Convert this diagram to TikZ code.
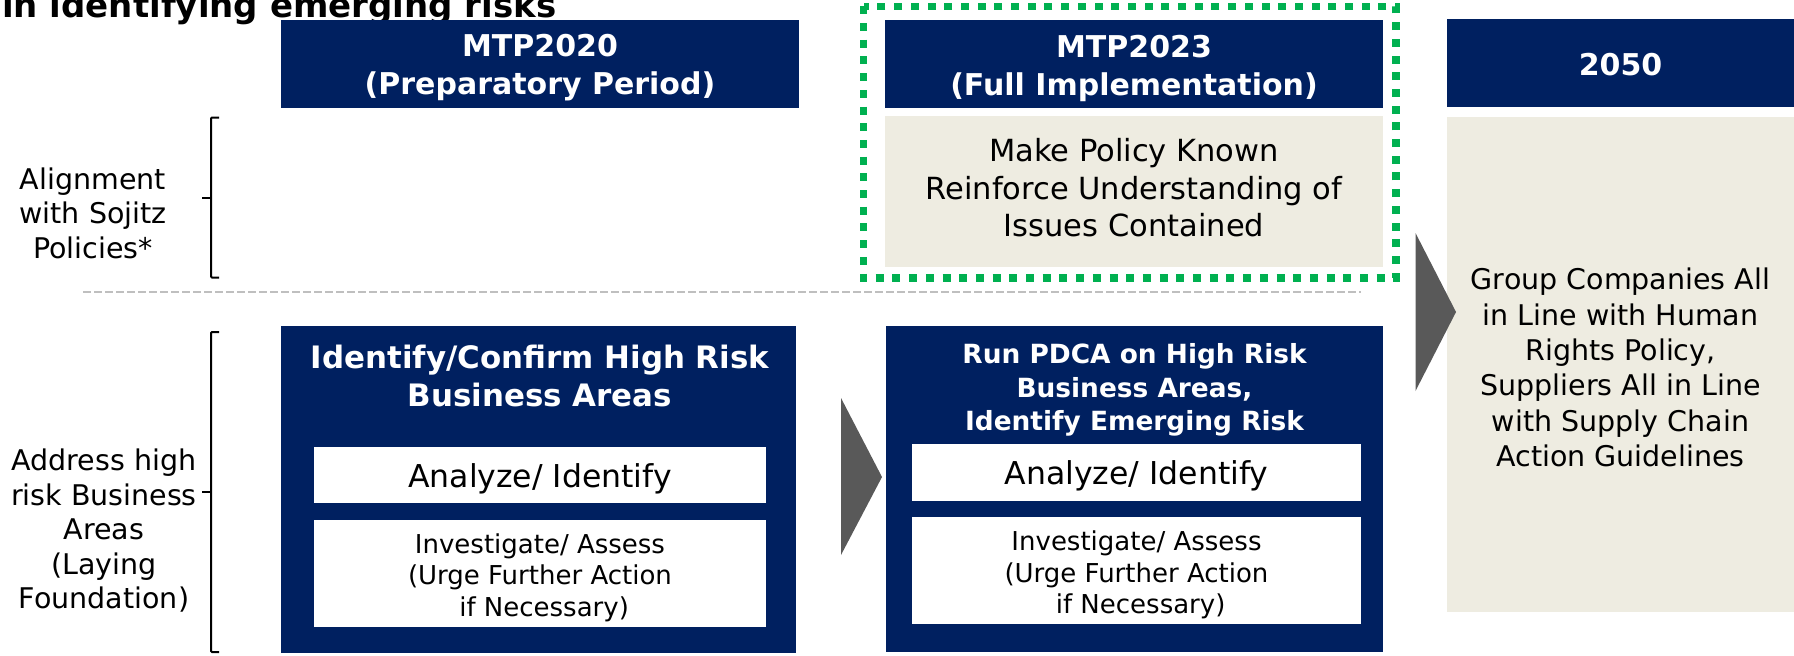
\documentclass[tikz,border=0pt]{standalone}
\usepackage{fontspec}
\setmainfont{DejaVu Sans}
\definecolor{navy}{HTML}{002060}
\definecolor{beige}{HTML}{EEECE1}
\definecolor{arrowgray}{HTML}{595959}
\definecolor{dotgreen}{HTML}{00B050}
\definecolor{linegray}{HTML}{BFBFBF}
\tikzset{
  hdr/.style={fill=navy, inner sep=0pt, minimum height=88pt},
  hdrtext/.style={text=white, inner sep=0pt, align=center,
    font=\bfseries\fontsize{30}{38}\selectfont},
  darkbox/.style={fill=navy, inner sep=0pt},
  beigebox/.style={fill=beige, inner sep=0pt},
  whitebox/.style={fill=white, inner sep=0pt},
  plaintext/.style={inner sep=0pt, align=center, text=black},
  titletext/.style={inner sep=0pt, align=center, text=white},
  sidelabel/.style={inner sep=0pt, align=center, font=\fontsize{28.5}{34.5}\selectfont},
  bracket/.style={line width=2pt, black},
  chevron/.style={fill=arrowgray},
}
\begin{document}
\begin{tikzpicture}[x=1pt,y=-1pt]
\useasboundingbox (0,0) rectangle (1794,656);
\clip (0,0) rectangle (1794,656);

% clipped title at top
\node[anchor=base west, inner sep=0pt, font=\bfseries\fontsize{34}{40}\selectfont] (title) at (2,17) {in identifying emerging risks};

% headers
\node[hdr, minimum width=518pt] (h1) at (540,64) {};
\node[hdrtext] (h1t) at (540,68) {MTP2020\\(Preparatory Period)};
\node[hdr, minimum width=498pt] (h2) at (1134,64) {};
\node[hdrtext] (h2t) at (1134,68) {MTP2023\\(Full Implementation)};
\node[hdr, minimum width=347pt] (h3) at (1620.5,63) {};
\node[hdrtext] (h3t) at (1620.5,65) {2050};

% top row beige box
\node[beigebox, minimum width=498pt, minimum height=151pt] (b1) at (1134,191.5) {};
\node[plaintext, font=\fontsize{30.5}{37.5}\selectfont] (b1t) at (1134,188) {Make Policy Known\\Reinforce Understanding of\\Issues Contained};

% green dotted frame
\draw[dotgreen, line width=7.5pt, dash pattern=on 8pt off 8.7pt] (863.5,6.3) rectangle (1396,278);

% separator
\draw[linegray, line width=2.5pt, dash pattern=on 8pt off 3pt] (83,292) -- (1361,292);

% 2050 beige box
\node[beigebox, minimum width=347pt, minimum height=495pt] (b2050) at (1620.5,364.5) {};
\node[plaintext, font=\fontsize{28.5}{35.3}\selectfont] (b2050t) at (1620.5,367.5) {Group Companies All\\in Line with Human\\Rights Policy,\\Suppliers All in Line\\with Supply Chain\\Action Guidelines};

% left labels and brackets
\node[sidelabel] (lab1) at (93,213) {Alignment\\with Sojitz\\Policies*};
\node[sidelabel] (lab2) at (104,531) {Address high\\risk Business\\Areas\\(Laying\\Foundation)};
\draw[bracket, rounded corners=1pt] (219,117.5) -- (211,117.5) -- (211,277.5) -- (219,277.5);
\draw[bracket] (211,197.5) -- (202,197.5);
\draw[bracket, rounded corners=1pt] (219,332) -- (211,332) -- (211,652) -- (219,652);
\draw[bracket] (211,492) -- (202,492);

% lower left dark box
\node[darkbox, minimum width=515pt, minimum height=327pt] (d1) at (538.5,489.5) {};
\node[titletext, font=\bfseries\fontsize{30.9}{38}\selectfont] (d1t) at (540,376) {Identify/Confirm High Risk\\Business Areas};
\node[whitebox, minimum width=452pt, minimum height=56pt] (w1a) at (540,475) {};
\node[plaintext, font=\fontsize{31.5}{38}\selectfont] (w1at) at (540,479) {Analyze/ Identify};
\node[whitebox, minimum width=452pt, minimum height=107pt] (w1b) at (540,573.5) {};
\node[plaintext, font=\fontsize{26}{31.5}\selectfont] (w1bt) at (540,577.5) {Investigate/ Assess\\(Urge Further Action\\\hspace*{0.32em}if Necessary)};

% lower middle dark box
\node[darkbox, minimum width=497pt, minimum height=326pt] (d2) at (1134.5,489) {};
\node[titletext, font=\bfseries\fontsize{26.4}{33.5}\selectfont] (d2t) at (1134.5,390) {Run PDCA on High Risk\\Business Areas,\\Identify Emerging Risk};
\node[whitebox, minimum width=449pt, minimum height=57pt] (w2a) at (1136.5,472.5) {};
\node[plaintext, font=\fontsize{31.5}{38}\selectfont] (w2at) at (1136.5,476) {Analyze/ Identify};
\node[whitebox, minimum width=449pt, minimum height=107pt] (w2b) at (1136.5,570.5) {};
\node[plaintext, font=\fontsize{26}{31.5}\selectfont] (w2bt) at (1136.5,575) {Investigate/ Assess\\(Urge Further Action\\\hspace*{0.32em}if Necessary)};

% chevrons
\fill[chevron] (841,398) -- (882,477) -- (841,555) -- cycle;
\fill[chevron] (1415.5,233) -- (1456,312) -- (1415.5,391) -- cycle;
\end{tikzpicture}
\end{document}
